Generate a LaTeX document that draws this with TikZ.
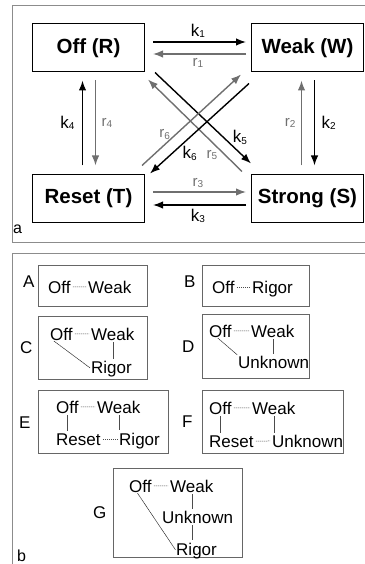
\documentclass[tikz,border=0pt]{standalone}
\usepackage{fontspec}
\setmainfont{Liberation Sans}
\usetikzlibrary{arrows.meta}
\definecolor{rgray}{HTML}{6F6F6F}
\definecolor{framegray}{HTML}{8C8C8C}
\newcommand{\ksub}[2]{#1{\fontsize{10}{10}\selectfont\raisebox{-1.5pt}{#2}}}

\tikzset{
  state/.style={draw, line width=1pt, minimum width=112pt, minimum height=48pt,
    inner sep=0pt, font=\fontsize{20.5}{24}\selectfont\bfseries},
  fwd/.style={line width=1.4pt, -{Latex[length=10pt,width=7.5pt]}},
  rev/.style={fwd, rgray},
  klab/.style={font=\fontsize{17}{18}\selectfont},
  rlab/.style={font=\fontsize{15}{18}\selectfont, text=rgray},
  panelframe/.style={draw=framegray, line width=0.8pt},
  minibox/.style={draw=gray!80!black, line width=0.7pt},
  wordnode/.style={inner sep=0pt, anchor=base west, font=\fontsize{17}{20}\selectfont},
  dotlink/.style={gray!60!black, line width=0.5pt, dash pattern=on 1.3pt off 0.7pt,
    shorten <=2pt, shorten >=2pt},
  diaglink/.style={gray!30!black, line width=0.5pt, dash pattern=on 1.5pt off 0.4pt,
    shorten <=1pt, shorten >=1pt}
}

\begin{document}
\begin{tikzpicture}[x=1pt,y=-1pt]
  \useasboundingbox (0,0) rectangle (364,564);

  % panel a
  \draw[panelframe] (12,5) rectangle (380,242);
  \node[state] (off) at (88.5,48) {Off (R)};
  \node[state] (weak) at (307.5,48) {Weak (W)};
  \node[state] (reset) at (88.5,198) {Reset (T)};
  \node[state] (strong) at (307.5,198) {Strong (S)};

  \draw[fwd, shorten <=8pt, shorten >=5pt] ([yshift=6pt]off.east) -- ([yshift=6pt]weak.west)
    node[midway, above, klab] {\ksub{k}{1}};
  \draw[rev, shorten <=5pt, shorten >=8pt] ([yshift=-6pt]weak.west) -- ([yshift=-6pt]off.east)
    node[midway, below, rlab] {\ksub{r}{1}};
  \draw[fwd, shorten <=8pt, shorten >=8pt] ([xshift=-6pt]reset.north) -- ([xshift=-6pt]off.south)
    node[midway, left=4pt, klab] {\ksub{k}{4}};
  \draw[rev, shorten <=8pt, shorten >=8pt] ([xshift=7pt]off.south) -- ([xshift=7pt]reset.north)
    node[midway, right=2pt, rlab] {\ksub{r}{4}};
  \draw[rev, shorten <=8pt, shorten >=8pt] ([xshift=-6pt]strong.north) -- ([xshift=-6pt]weak.south)
    node[midway, left=2pt, rlab] {\ksub{r}{2}};
  \draw[fwd, shorten <=8pt, shorten >=8pt] ([xshift=7pt]weak.south) -- ([xshift=7pt]strong.north)
    node[midway, right=3pt, klab] {\ksub{k}{2}};
  \draw[rev, shorten <=8pt, shorten >=5pt] ([yshift=6pt]reset.east) -- ([yshift=6pt]strong.west)
    node[midway, above, rlab] {\ksub{r}{3}};
  \draw[fwd, shorten <=5pt, shorten >=8pt] ([yshift=-7pt]strong.west) -- ([yshift=-7pt]reset.east)
    node[midway, below, klab] {\ksub{k}{3}};

  % crossing arrows
  \draw[fwd] ([xshift=10pt]off.south east) -- ([yshift=10pt]strong.north west)
    node[pos=.8, above right=-3pt, klab] {\ksub{k}{5}};
  \draw[rev] ([shift={(-9pt,2pt)}]strong.north west) -- ([shift={(3pt,-7pt)}]off.south east)
    node[pos=.32, below=4pt, rlab] {\ksub{r}{5}};
  \draw[rev] ([shift={(-3pt,8pt)}]reset.north east) -- ([shift={(-10pt,-2pt)}]weak.south west)
    node[pos=.23, above=1pt, rlab] {\ksub{r}{6}};
  \draw[fwd] ([shift={(-2pt,-11pt)}]weak.south west) -- ([xshift=5pt]reset.north east)
    node[pos=.6, below=5pt, klab] {\ksub{k}{6}};

  \node[wordnode, font=\fontsize{16}{18}\selectfont] (tagA) at (13,233) {a};

  % panel b
  \draw[panelframe] (12,253) rectangle (380,580);
  \node[wordnode, font=\fontsize{16}{18}\selectfont] (tagB) at (17,561) {b};

  \draw[minibox] (38,265) rectangle (147,306);
  \draw[minibox] (202,265) rectangle (309,306);
  \draw[minibox] (38,316) rectangle (147,379);
  \draw[minibox] (202,314) rectangle (309,378);
  \draw[minibox] (38,390) rectangle (168,453);
  \draw[minibox] (202,390) rectangle (343,453);
  \draw[minibox] (113,468) rectangle (242,557);

  % A
  \node[wordnode] (labA) at (23,287) {A};
  \node[wordnode] (offA) at (48,293) {Off};
  \node[wordnode] (weakA) at (88,293) {Weak};
  \draw[dotlink] (offA.east) -- (weakA.west);
  % B
  \node[wordnode] (labB) at (184,287) {B};
  \node[wordnode] (offB) at (212,293) {Off};
  \node[wordnode] (rigorB) at (252,293) {Rigor};
  \draw[dotlink] (offB.east) -- (offB.east -| rigorB.west);
  % C
  \node[wordnode] (labC) at (20,353) {C};
  \node[wordnode] (offC) at (50,340) {Off};
  \node[wordnode] (weakC) at (91,340) {Weak};
  \node[wordnode] (rigorC) at (91,373) {Rigor};
  \draw[dotlink] (offC.east) -- (weakC.west);
  \draw[dotlink] (weakC.south) -- (weakC.south |- rigorC.north);
  \draw[diaglink] ([xshift=3pt]offC.south west) -- (rigorC.west);
  % D
  \node[wordnode] (labD) at (182,352) {D};
  \node[wordnode] (offD) at (209,337) {Off};
  \node[wordnode] (weakD) at (251,337) {Weak};
  \node[wordnode] (unknownD) at (238,368) {Unknown};
  \draw[dotlink] (offD.east) -- (weakD.west);
  \draw[dotlink] (weakD.south) -- (weakD.south |- unknownD.north);
  \draw[diaglink] ([xshift=8pt]offD.south west) -- (unknownD.north west);
  % E
  \node[wordnode] (labE) at (19,428) {E};
  \node[wordnode] (offE) at (56,413) {Off};
  \node[wordnode] (weakE) at (97,413) {Weak};
  \node[wordnode] (resetE) at (56,445) {Reset};
  \node[wordnode] (rigorE) at (119,445) {Rigor};
  \draw[dotlink] (offE.east) -- (weakE.west);
  \draw[dotlink] (offE.south) -- (offE.south |- resetE.north);
  \draw[dotlink] (weakE.south) -- (weakE.south |- rigorE.north);
  \draw[dotlink] (resetE.east) -- (resetE.east -| rigorE.west);
  % F
  \node[wordnode] (labF) at (182,427) {F};
  \node[wordnode] (offF) at (209,414) {Off};
  \node[wordnode] (weakF) at (252,414) {Weak};
  \node[wordnode] (resetF) at (209,447) {Reset};
  \node[wordnode] (unknownF) at (272,447) {Unknown};
  \draw[dotlink] (offF.east) -- (weakF.west);
  \draw[dotlink] (offF.south) -- (offF.south |- resetF.north);
  \draw[dotlink] (weakF.south) -- (weakF.south |- unknownF.north);
  \draw[dotlink] (resetF.east) -- (unknownF.west);
  % G
  \node[wordnode] (labG) at (93,518) {G};
  \node[wordnode] (offG) at (129,492) {Off};
  \node[wordnode] (weakG) at (170,492) {Weak};
  \node[wordnode] (unknownG) at (162,523) {Unknown};
  \node[wordnode] (rigorG) at (176,555) {Rigor};
  \draw[dotlink] (offG.east) -- (weakG.west);
  \draw[dotlink] (weakG.south) -- (weakG.south |- unknownG.north);
  \draw[dotlink] (weakG.south |- unknownG.south) -- (weakG.south |- rigorG.north);
  \draw[diaglink] ([xshift=8pt]offG.south west) -- (rigorG.west);
\end{tikzpicture}
\end{document}
